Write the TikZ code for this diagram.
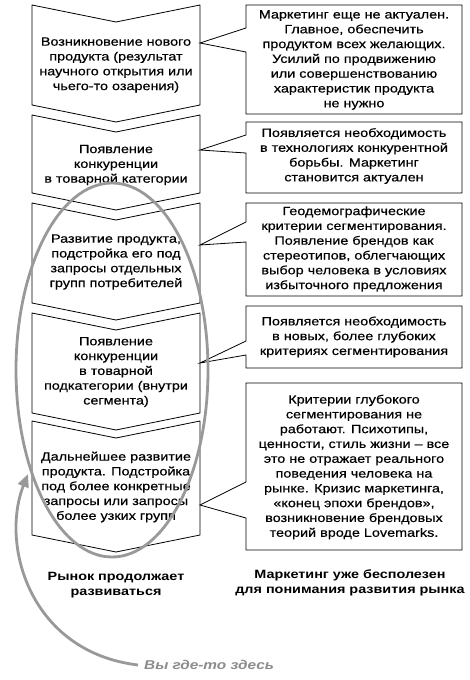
\documentclass[tikz,border=0pt]{standalone}
\usepackage{fontspec}
\setmainfont{Liberation Sans}[FakeStretch=1.2, UprightFeatures={FakeBold=0.5}]
\usetikzlibrary{arrows.meta}
\definecolor{mygray}{gray}{0.6}
\definecolor{txtgray}{gray}{0.55}
\begin{document}
\begin{tikzpicture}[x=1pt,y=-1pt,
  shapeline/.style={draw=black,line width=0.8pt,line join=miter},
  txt/.style={align=center,inner sep=0pt,font=\fontsize{12}{14.8}\selectfont},
  lbl/.style={align=center,inner sep=0pt,font=\fontsize{12}{14.8}\selectfont\bfseries},
  ring/.style={draw=mygray,line width=2.8pt},
  youarrow/.style={draw=mygray,line width=2.8pt,-{Triangle[length=13pt,width=11pt]}}]
\useasboundingbox (0,0) rectangle (470,680);
% ---- left stage shapes
\newcommand{\stage}[2]{%
  \draw[shapeline] (32,#1) -- (116,#1+17) -- (200,#1) -- (200,#2) -- (116,#2+17) -- (32,#2) -- cycle;}
\stage{5}{105}
\stage{115}{193}
\stage{203}{303}
\stage{313}{413}
\stage{421}{535}
\node[txt] (s1) at (116,65) {Возникновение нового\\продукта (результат\\научного открытия или\\чьего-то озарения)};
\node[txt] (s2) at (116,165) {Появление\\конкуренции\\в товарной категории};
\node[txt] (s3) at (116,262) {Развитие продукта,\\подстройка его под\\запросы отдельных\\групп потребителей};
\node[txt] (s4) at (116,372) {Появление\\конкуренции\\в товарной\\подкатегории (внутри\\сегмента)};
\node[txt] (s5) at (116,487) {Дальнейшее развитие\\продукта. Подстройка\\под более конкретные\\запросы или запросы\\более узких групп};
% ---- right callouts
\newcommand{\callout}[5]{% top, bottom, upper junction, tip, lower junction
  \draw[shapeline] (246,#1) -- (462,#1) -- (462,#2) -- (246,#2) -- (246,#5) -- (200,#4) -- (246,#3) -- cycle;}
\callout{5}{114}{28}{43}{52}
\callout{122}{193}{135}{150}{153}
\callout{203}{296}{222}{245}{242}
\callout{306}{368}{341}{363}{355}
\callout{383}{550}{482}{505}{518}
\node[txt] (r1) at (354,60) {Маркетинг еще не актуален.\\Главное, обеспечить\\продуктом всех желающих.\\Усилий по продвижению\\или совершенствованию\\характеристик продукта\\не нужно};
\node[txt] (r2) at (354,156) {Появляется необходимость\\в технологиях конкурентной\\борьбы. Маркетинг\\становится актуален};
\node[txt] (r3) at (354,249) {Геодемографические\\критерии сегментирования.\\Появление брендов как\\стереотипов, облегчающих\\выбор человека в условиях\\избыточного предложения};
\node[txt] (r4) at (354,337) {Появляется необходимость\\в новых, более глубоких\\критериях сегментирования};
\node[txt] (r5) at (354,467) {Критерии глубокого\\сегментирования не\\работают. Психотипы,\\ценности, стиль жизни – все\\это не отражает реального\\поведения человека на\\рынке. Кризис маркетинга,\\«конец эпохи брендов»,\\возникновение брендовых\\теорий вроде Lovemarks.};
% ---- bottom labels
\node[lbl] (b1) at (116,585) {Рынок продолжает\\развиваться};
\node[lbl] (b2) at (350,583) {Маркетинг уже бесполезен\\для понимания развития рынка};
\node[anchor=west,inner sep=0pt,text=txtgray,font=\fontsize{12.8}{14.8}\selectfont\bfseries\itshape] (here) at (144,665) {Вы где-то здесь};
% ---- ellipse and arrow
\draw[ring] (112,370) ellipse [x radius=96pt, y radius=187pt];
\coordinate (tipA) at (28,474);
\draw[youarrow] ([xshift=-6pt]here.west) .. controls (30,652) and (0,545) .. (tipA);
\end{tikzpicture}
\end{document}
